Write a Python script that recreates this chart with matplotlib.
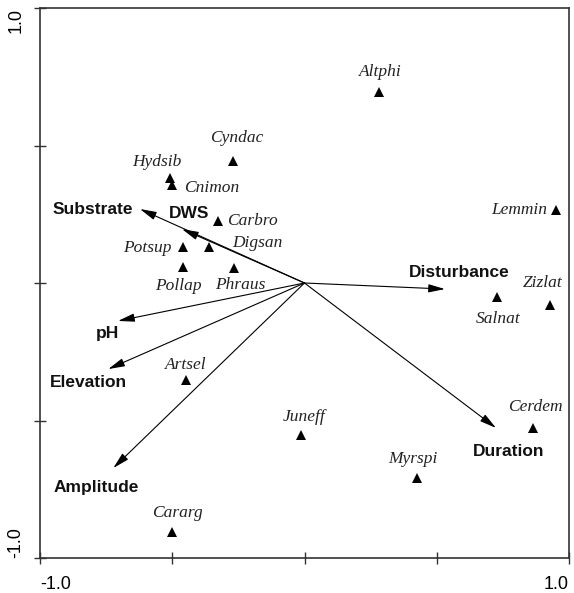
import numpy as np
import matplotlib
matplotlib.use('Agg')
from matplotlib import pyplot as plt

# species scores (axis 1, axis 2)
species = ['Altphi', 'Cyndac', 'Hydsib', 'Cnimon', 'Carbro', 'Digsan', 'Potsup',
           'Pollap', 'Phraus', 'Lemmin', 'Salnat', 'Zizlat', 'Artsel', 'Juneff',
           'Myrspi', 'Cerdem', 'Cararg']
sp_x = np.array([0.282, -0.270, -0.508, -0.500, -0.327, -0.362, -0.460,
                 -0.459, -0.266, 0.951, 0.727, 0.928, -0.449, -0.013,
                 0.425, 0.865, -0.500])
sp_y = np.array([0.695, 0.444, 0.382, 0.356, 0.225, 0.131, 0.131,
                 0.058, 0.055, 0.265, -0.050, -0.080, -0.353, -0.553,
                 -0.709, -0.527, -0.905])

# environmental vectors
env = ['Substrate', 'DWS', 'Disturbance', 'pH', 'Elevation', 'Amplitude', 'Duration']
env_x = np.array([-0.622, -0.463, 0.531, -0.705, -0.742, -0.723, 0.724])
env_y = np.array([0.269, 0.196, -0.022, -0.138, -0.313, -0.673, -0.527])

# label placement: offset in pixels from the point (y up), alignment
sp_lab = {
    'Altphi': (1, 20, 'center'), 'Cyndac': (4, 23, 'center'),
    'Hydsib': (-13, 16, 'center'), 'Cnimon': (12, -3, 'left'),
    'Carbro': (9, 0, 'left'), 'Digsan': (23, 4, 'left'),
    'Potsup': (-11, -1, 'right'), 'Pollap': (-5, -19, 'center'),
    'Phraus': (6, -17, 'center'), 'Lemmin': (-9, 0, 'right'),
    'Salnat': (1, -22, 'center'), 'Zizlat': (-7, 22, 'center'),
    'Artsel': (0, 15, 'center'), 'Juneff': (3, 18, 'center'),
    'Myrspi': (-4, 19, 'center'), 'Cerdem': (2, 21, 'center'),
    'Cararg': (5, 19, 'center'),
}
env_lab = {
    'Substrate': (-47, 0, 'center'), 'DWS': (7, 16, 'center'),
    'Disturbance': (14, 17, 'center'), 'pH': (-11, -13, 'center'),
    'Elevation': (-20, -13, 'center'), 'Amplitude': (-17, -19, 'center'),
    'Duration': (13, -24, 'center'),
}

fig = plt.figure(figsize=(5.74, 5.93), dpi=100)
ax = fig.add_axes([40/574, 35/593, 529/574, 550/593])

for n, x, y in zip(env, env_x, env_y):
    ax.annotate('', xy=(x, y), xytext=(0, 0),
                arrowprops=dict(arrowstyle='-|>,head_length=1.0,head_width=0.25',
                                color='black', lw=0.8, shrinkA=0, shrinkB=0,
                                mutation_scale=10))
    dx, dy, ha = env_lab[n]
    ax.annotate(n, (x, y), xytext=(dx*0.72, dy*0.72), textcoords='offset points',
                ha=ha, va='center', fontsize=12.5, fontweight='bold',
                family='Liberation Sans', color='#111111')

ax.plot(sp_x, sp_y, '^', color='black', markersize=7.5, markeredgewidth=0)
for n, x, y in zip(species, sp_x, sp_y):
    dx, dy, ha = sp_lab[n]
    ax.annotate(n, (x, y), xytext=(dx*0.72, dy*0.72), textcoords='offset points',
                ha=ha, va='center', fontsize=12.5, style='italic',
                family='Liberation Serif', color='#222222')

ax.set_xlim(-1, 1)
ax.set_ylim(-1, 1)
ticks = [-1, -0.5, 0, 0.5, 1]
ax.set_xticks(ticks)
ax.set_yticks(ticks)
ax.set_xticklabels(['-1.0', '', '', '', '1.0'], family='Liberation Sans', fontsize=13)
ax.set_yticklabels(['-1.0', '', '', '', '1.0'], family='Liberation Sans', fontsize=13,
                   rotation=90)
xl = ax.get_xticklabels()
xl[0].set_ha('left')
xl[-1].set_ha('right')
yl = ax.get_yticklabels()
yl[0].set_va('bottom')
yl[-1].set_va('top')
ax.tick_params(direction='inout', length=8, width=1, color='#333333')
ax.tick_params(axis='x', pad=9)
ax.tick_params(axis='y', pad=7)
for s in ax.spines.values():
    s.set_linewidth(1.2)
    s.set_color('#333333')

fig.savefig('out.png', dpi=100)
